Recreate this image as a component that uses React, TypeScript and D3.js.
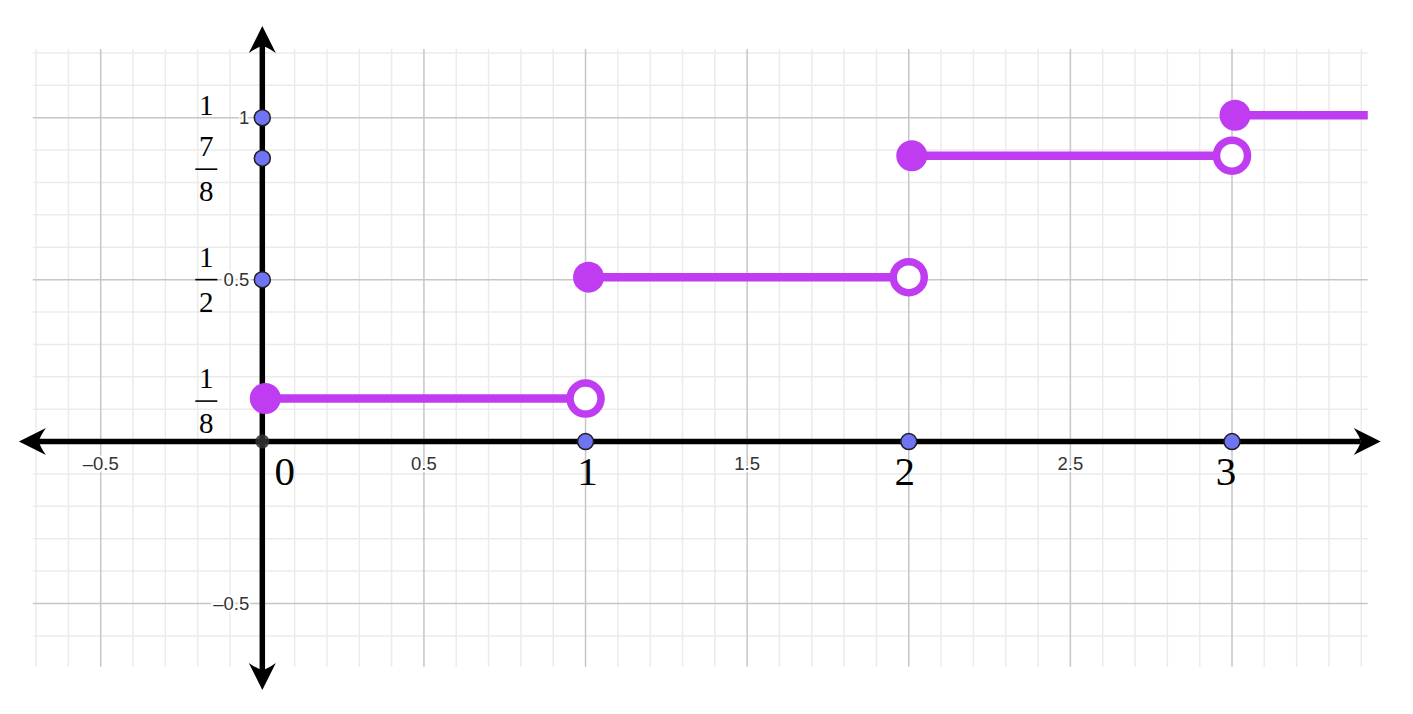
import React from "react";
import * as d3 from "d3";

// ---- data ----
const stepStarts = [0, 1, 2, 3];
const stepEnds = [1, 2, 3, 3.42];
const stepValues = [1 / 8, 1 / 2, 7 / 8, 1];
const stepClosedEnd = [false, false, false, null];

const yAxisPoints = [1, 7 / 8, 1 / 2];
const xAxisPoints = [1, 2, 3];
const originPoint = [0];

const xTickLabels = [-0.5, 0.5, 1.5, 2.5];
const yTickLabels = [1, 0.5, -0.5];
const bigXLabels = [0, 1, 2, 3];

const fracValues = [1 / 8, 1 / 2, 7 / 8];
const fracNums = ["1", "1", "7"];
const fracDens = ["8", "2", "8"];
const topLabelValue = 1;
const topLabelText = "1";

const gridX = [-0.71, 3.42];
const gridY = [-0.695, 1.212];
const axisX = [-0.753, 3.46];
const axisY = [-0.767, 1.283];

// ---- layout ----
const W = 1413;
const H = 714;
const x = d3.scaleLinear().domain([-0.5, 3]).range([100.7, 1232]);
const y = d3.scaleLinear().domain([-0.5, 1]).range([603.5, 117.7]);

const PURPLE = "#c03cf0";
const BLUE = "#6f74f3";
const fmt = (v: number) => (v < 0 ? "\u2013" + String(Math.abs(v)) : String(v));
const bigLabelDx = (v: number) => (v === 0 ? 22.5 : v === 1 ? 2 : -2 * v);

function Arrow({ tx, ty, angle }: { tx: number; ty: number; angle: number }) {
  return (
    <path
      d="M0,0 L-27,-13.5 Q-21,-5 -20,0 Q-21,5 -27,13.5 Z"
      transform={`translate(${tx},${ty}) rotate(${angle})`}
      fill="#000"
    />
  );
}

export default function App() {
  const minor = d3.range(-7, 35).map((i) => i / 10).filter((v) => v >= gridX[0] && v <= gridX[1]);
  const minorY = d3.range(-7, 13).map((i) => i / 10).filter((v) => v >= gridY[0] && v <= gridY[1]);
  const isMajor = (v: number) => Math.abs(Math.round(v * 2) - v * 2) < 1e-6;

  const segs = stepStarts.map((s, i) => ({ s, e: stepEnds[i], v: stepValues[i], open: stepClosedEnd[i] === false }));

  return (
    <div style={{ position: "fixed", left: 0, top: 0, width: W, height: H, background: "#fff" }}>
      <svg width={W} height={H} style={{ display: "block" }}>
        {/* grid */}
        <g>
          {minor.filter((v) => !isMajor(v)).map((v) => (
            <line key={"vx" + v} x1={x(v)} x2={x(v)} y1={y(gridY[1])} y2={y(gridY[0])} stroke="#ebebeb" strokeWidth={1.5} />
          ))}
          {minorY.filter((v) => !isMajor(v)).map((v) => (
            <line key={"hy" + v} y1={y(v)} y2={y(v)} x1={x(gridX[0])} x2={x(gridX[1])} stroke="#ebebeb" strokeWidth={1.5} />
          ))}
          {minor.filter((v) => isMajor(v)).map((v) => (
            <line key={"Vx" + v} x1={x(v)} x2={x(v)} y1={y(gridY[1])} y2={y(gridY[0])} stroke="#c6c6c6" strokeWidth={1.5} />
          ))}
          {minorY.filter((v) => isMajor(v)).map((v) => (
            <line key={"Hy" + v} y1={y(v)} y2={y(v)} x1={x(gridX[0])} x2={x(gridX[1])} stroke="#c6c6c6" strokeWidth={1.5} />
          ))}
        </g>

        {/* small tick labels */}
        <g fontFamily="'Liberation Sans', Arial, sans-serif" fontSize={18.5} fill="#333" stroke="#fff" strokeWidth={4} style={{ paintOrder: "stroke" }}>
          {xTickLabels.map((v) => (
            <text key={"xt" + v} x={x(v)} y={y(0) + 28} textAnchor="middle">{fmt(v)}</text>
          ))}
          {yTickLabels.map((v) => (
            <text key={"yt" + v} x={x(0) - 13} y={y(v) + 6.5} textAnchor="end">{fmt(v)}</text>
          ))}
        </g>

        {/* axes */}
        <g>
          <line x1={x(axisX[0]) + 20} x2={x(axisX[1]) - 20} y1={y(0)} y2={y(0)} stroke="#000" strokeWidth={5.5} />
          <line y1={y(axisY[1]) + 20} y2={y(axisY[0]) - 20} x1={x(0)} x2={x(0)} stroke="#000" strokeWidth={5.5} />
          <Arrow tx={x(axisX[1])} ty={y(0)} angle={0} />
          <Arrow tx={x(axisX[0])} ty={y(0)} angle={180} />
          <Arrow tx={x(0)} ty={y(axisY[1])} angle={-90} />
          <Arrow tx={x(0)} ty={y(axisY[0])} angle={90} />
        </g>

        {/* points on axes */}
        <g>
          {originPoint.map((v) => (
            <circle key={"o" + v} cx={x(v)} cy={y(0)} r={7} fill="#333" opacity={0.85} />
          ))}
          {yAxisPoints.map((v) => (
            <circle key={"yp" + v} cx={x(0)} cy={y(v)} r={8} fill={BLUE} stroke="#1f1f1f" strokeWidth={1.5} />
          ))}
          {xAxisPoints.map((v) => (
            <circle key={"xp" + v} cx={x(v)} cy={y(0)} r={8} fill={BLUE} stroke="#1f1f1f" strokeWidth={1.5} />
          ))}
        </g>

        {/* step function */}
        <g transform="translate(0,-2.5)">
          {segs.map((d) => (
            <line key={"s" + d.s} x1={x(d.s)} x2={x(d.e)} y1={y(d.v)} y2={y(d.v)} stroke={PURPLE} strokeWidth={8.5} />
          ))}
          {segs.map((d) => (
            <circle key={"f" + d.s} cx={x(d.s) + 3} cy={y(d.v)} r={15.5} fill={PURPLE} />
          ))}
          {segs.filter((d) => d.open).map((d) => (
            <circle key={"h" + d.s} cx={x(d.e)} cy={y(d.v)} r={15.5} fill="#fff" stroke={PURPLE} strokeWidth={7.5} />
          ))}
        </g>

        {/* big x labels */}
        <g fontFamily="'Liberation Serif', 'Times New Roman', serif" fontSize={41} fill="#000">
          {bigXLabels.map((v) => (
            <text key={"bx" + v} x={x(v) + bigLabelDx(v)} y={y(0) + 43} textAnchor="middle">{String(v)}</text>
          ))}
        </g>

        {/* fraction labels */}
        <g fontFamily="'Liberation Serif', 'Times New Roman', serif" fontSize={29} fill="#000">
          {fracValues.map((v, i) => {
            const by = y(v) + (v > 0.8 ? 11 : 0);
            const cx = x(0) - 56;
            return (
              <g key={"fr" + i}>
                <text x={cx} y={by - 13} textAnchor="middle">{fracNums[i]}</text>
                <line x1={cx - 11} x2={cx + 11} y1={by} y2={by} stroke="#000" strokeWidth={1.6} />
                <text x={cx} y={by + 32} textAnchor="middle">{fracDens[i]}</text>
              </g>
            );
          })}
          <text x={x(0) - 56} y={y(topLabelValue) - 3} textAnchor="middle">{topLabelText}</text>
        </g>
      </svg>
    </div>
  );
}
